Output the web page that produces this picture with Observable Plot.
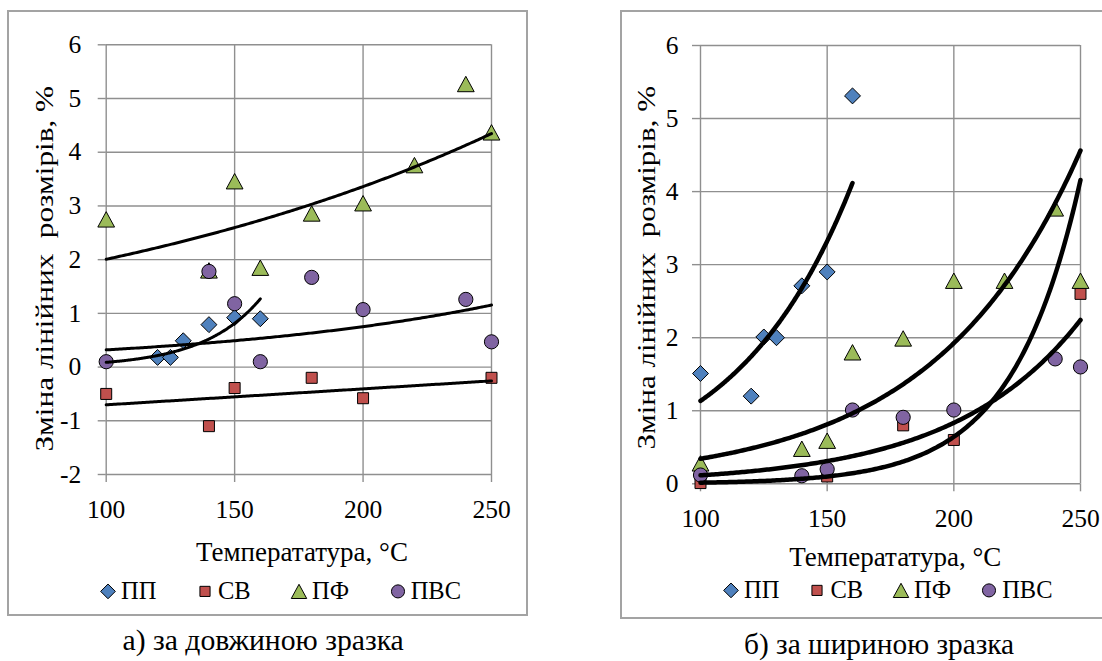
<!DOCTYPE html>
<html><head><meta charset="utf-8">
<script src="https://cdn.jsdelivr.net/npm/d3@7"></script>
<script src="https://cdn.jsdelivr.net/npm/@observablehq/plot@0.6"></script>
<style>
html,body{margin:0;padding:0;background:#fff}
body{width:1102px;height:661px;overflow:hidden;position:relative;color:#000;font-family:'Liberation Serif',serif}
.frame{position:absolute;border:2px solid #a3a3a3;box-sizing:border-box}
.abs{position:absolute;white-space:pre;line-height:1;font-family:'Liberation Serif',serif}
.legend{position:absolute;display:flex;align-items:flex-start;line-height:1;white-space:pre;font-family:'Liberation Serif',serif}
.legend .item{display:flex;align-items:flex-start}
.legend svg{display:block;overflow:visible}
</style>
</head><body>
<script>
// ---- data ----
const seriesNames = ["ПП", "СВ", "ПФ", "ПВС"];
const seriesColors = ["#4f81bd", "#c0504d", "#9bbb59", "#8064a2"];
const xTicks = [100, 150, 200, 250];

// а) за довжиною зразка
const lenPP_T = [120, 125, 130, 140, 150, 160];
const lenPP_V = [0.18, 0.18, 0.49, 0.79, 0.92, 0.9];
const lenSV_T = [100, 140, 150, 180, 200, 250];
const lenSV_V = [-0.5, -1.1, -0.39, -0.2, -0.58, -0.2];
const lenPF_T = [100, 140, 150, 160, 180, 200, 220, 240, 250];
const lenPF_V = [2.75, 1.8, 3.46, 1.85, 2.86, 3.05, 3.76, 5.27, 4.37];
const lenPVS_T = [100, 140, 150, 160, 180, 200, 240, 250];
const lenPVS_V = [0.1, 1.78, 1.18, 0.1, 1.67, 1.07, 1.26, 0.47];
const lenTrend = ["exp", "linear", "exp", "exp"];
const lenYTicks = [-2, -1, 0, 1, 2, 3, 4, 5, 6];

// б) за шириною зразка
const widPP_T = [100, 120, 125, 130, 140, 150, 160];
const widPP_V = [1.51, 1.2, 2.01, 2.0, 2.71, 2.9, 5.31];
const widSV_T = [100, 150, 180, 200, 250];
const widSV_V = [0.01, 0.1, 0.8, 0.6, 2.6];
const widPF_T = [100, 140, 150, 160, 180, 200, 220, 240, 250];
const widPF_V = [0.28, 0.48, 0.59, 1.8, 1.99, 2.78, 2.78, 3.77, 2.78];
const widPVS_T = [100, 140, 150, 160, 180, 200, 240, 250];
const widPVS_V = [0.12, 0.11, 0.2, 1.01, 0.91, 1.01, 1.71, 1.6];
const widTrend = ["exp", "exp", "exp", "exp"];
const widYTicks = [0, 1, 2, 3, 4, 5, 6];

const xTitle = "Температатура, °С";
const yTitle = "Зміна лінійних  розмірів, %";
const captions = ["а) за довжиною зразка", "б) за шириною зразка"];

const FONT = "Liberation Serif";
const BASE = 0.8375; // baseline offset (em) inside a line-height:1 box

// ---- symbols (Excel-like markers) ----
const symDiamond = {draw(c, s) { const h = Math.sqrt(s) * 0.625; c.moveTo(0, -h); c.lineTo(h, 0); c.lineTo(0, h); c.lineTo(-h, 0); c.closePath(); }};
const symSquare = {draw(c, s) { const h = Math.sqrt(s) / 2; c.moveTo(-h, -h); c.lineTo(h, -h); c.lineTo(h, h); c.lineTo(-h, h); c.closePath(); }};
const symTriangle = {draw(c, s) { const w = Math.sqrt(s) * 1.5, h = w * 0.92; c.moveTo(0, -h / 2); c.lineTo(w / 2, h / 2); c.lineTo(-w / 2, h / 2); c.closePath(); }};
const symCircle = {draw(c, s) { const r = Math.sqrt(s / Math.PI); c.moveTo(r, 0); c.arc(0, 0, r, 0, 2 * Math.PI); c.closePath(); }};
const seriesSymbols = [symDiamond, symSquare, symTriangle, "circle"];
const legendSymbols = [symDiamond, symSquare, symTriangle, symCircle];
const seriesR = [7.2, 6.2, 6.3, 7.1];

// ---- fits (Excel trendlines) ----
function expFit(t, v) {
  const ly = v.map(Math.log), mx = d3.mean(t), my = d3.mean(ly);
  const b = d3.sum(t, (x, i) => (x - mx) * (ly[i] - my)) / d3.sum(t, x => (x - mx) ** 2);
  return x => Math.exp(my + b * (x - mx));
}
function linFit(t, v) {
  const mx = d3.mean(t), my = d3.mean(v);
  const b = d3.sum(t, (x, i) => (x - mx) * (v[i] - my)) / d3.sum(t, x => (x - mx) ** 2);
  return x => my + b * (x - mx);
}

const gridColor = "#8f8f8f";

function makeChart(cfg) {
  const marks = [
    Plot.gridX(xTicks, {stroke: gridColor, strokeOpacity: 1, strokeWidth: 1.4}),
    Plot.gridY(cfg.yTicks, {stroke: gridColor, strokeOpacity: 1, strokeWidth: 1.4}),
    Plot.axisX(xTicks, {tickSize: 8, tickPadding: 17, stroke: gridColor, strokeWidth: 1.4, fill: "#000", tickFormat: d => String(d), label: null, fontFamily: FONT, fontSize: 25.5}),
    Plot.axisY(cfg.yTicks, {tickSize: 8, tickPadding: cfg.yPad, stroke: gridColor, strokeWidth: 1.4, fill: "#000", tickFormat: d => String(d), label: null, fontFamily: FONT, fontSize: 25.5})
  ];
  cfg.series.forEach((s, i) => {
    const data = s.t.map((t, j) => ({t, v: s.v[j]}));
    marks.push(Plot.dot(data, {x: "t", y: "v", symbol: seriesSymbols[i], r: seriesR[i], fill: seriesColors[i], fillOpacity: 1, stroke: "#000", strokeWidth: 1}));
  });
  cfg.series.forEach((s, i) => {
    const f = cfg.trend[i] === "exp" ? expFit(s.t, s.v) : linFit(s.t, s.v);
    const xmax = d3.max(s.t);
    const curve = d3.range(0, 201).map(k => { const t = 100 + k * (xmax - 100) / 200; return {t, v: f(t)}; });
    marks.push(Plot.line(curve, {x: "t", y: "v", stroke: "#000", strokeWidth: cfg.lineWidth, curve: "linear"}));
  });
  return Plot.plot({
    width: cfg.width, height: cfg.height,
    marginLeft: cfg.ml, marginRight: cfg.mr, marginTop: cfg.mt, marginBottom: cfg.mb,
    x: {domain: [100, 250]},
    y: {domain: cfg.yDomain},
    style: {fontFamily: FONT, fontSize: "25.5px", color: "#000", background: "transparent", overflow: "visible"},
    marks
  });
}

function addDiv(cls, text, styleStr) {
  const d = document.createElement("div");
  d.className = cls; d.textContent = text; if (styleStr) d.setAttribute("style", styleStr);
  document.body.appendChild(d); return d;
}

// horizontal text, fitted to a width, centred at cx with its baseline at by
function hText(text, cx, by, targetWidth) {
  const d = addDiv("abs", text, "font-size:26px;left:0;top:0");
  const fs = 26 * targetWidth / d.offsetWidth;
  d.style.fontSize = fs + "px";
  d.style.left = (cx - d.offsetWidth / 2) + "px";
  d.style.top = (by - BASE * fs) + "px";
}

// rotated (bottom-to-top) text centred at (cx, cy), stretched to a length
function vText(text, cx, cy, length, fs) {
  const d = addDiv("abs", text, `font-size:${fs}px;left:0;top:0`);
  const w = d.offsetWidth, h = d.offsetHeight;
  d.style.left = (cx - w / 2) + "px";
  d.style.top = (cy - h / 2) + "px";
  d.style.transform = `rotate(-90deg) scaleX(${length / w})`;
}

function addLegend(left, baseline, gap, size) {
  const lg = document.createElement("div");
  lg.className = "legend";
  lg.style.left = left + "px"; lg.style.top = (baseline - BASE * size) + "px";
  lg.style.gap = gap + "px"; lg.style.fontSize = size + "px";
  seriesNames.forEach((n, i) => {
    const item = document.createElement("div"); item.className = "item";
    const svg = d3.create("svg").attr("width", 18).attr("height", size);
    const p = d3.path(); legendSymbols[i].draw(p, seriesR[i] * seriesR[i] * Math.PI * 0.85);
    svg.append("path").attr("d", p.toString()).attr("transform", `translate(9,${size * 0.506})`)
      .attr("fill", seriesColors[i]).attr("stroke", "#000").attr("stroke-width", 1);
    item.appendChild(svg.node());
    const tx = document.createElement("span"); tx.textContent = n; tx.style.marginLeft = "4px";
    item.appendChild(tx);
    lg.appendChild(item);
  });
  document.body.appendChild(lg);
}

// frames
addDiv("frame", "", "left:7px;top:10px;width:521px;height:606px");
addDiv("frame", "", "left:620px;top:10px;width:600px;height:609px");

// left chart
const left = makeChart({
  series: [{t: lenPP_T, v: lenPP_V}, {t: lenSV_T, v: lenSV_V}, {t: lenPF_T, v: lenPF_V}, {t: lenPVS_T, v: lenPVS_V}],
  trend: lenTrend, yTicks: lenYTicks, yDomain: [-2, 6], yPad: 17, lineWidth: 3,
  width: 520, height: 524, ml: 105.7, mr: 29, mt: 44.3, mb: 50
});
left.style.position = "absolute"; left.style.left = "0px"; left.style.top = "0px";
document.body.appendChild(left);

// right chart
const right = makeChart({
  series: [{t: widPP_T, v: widPP_V}, {t: widSV_T, v: widSV_V}, {t: widPF_T, v: widPF_V}, {t: widPVS_T, v: widPVS_V}],
  trend: widTrend, yTicks: widYTicks, yDomain: [0, 6], yPad: 14, lineWidth: 4.5,
  width: 542, height: 533, ml: 140, mr: 22, mt: 45, mb: 49.7
});
right.style.position = "absolute"; right.style.left = "560px"; right.style.top = "0px";
document.body.appendChild(right);

// titles, legends, captions
vText(yTitle, 44, 268.5, 366, 25.5);
vText(yTitle, 646, 267.5, 364, 25.5);
hText(xTitle, 302, 561.7, 212);
hText(xTitle, 895.3, 566.7, 212);
addLegend(99, 599.3, 39.5, 24.5);
addLegend(722, 598.3, 29, 24.5);
hText(captions[0], 263, 651.3, 281);
hText(captions[1], 879, 654.7, 270);
</script>
</body></html>
